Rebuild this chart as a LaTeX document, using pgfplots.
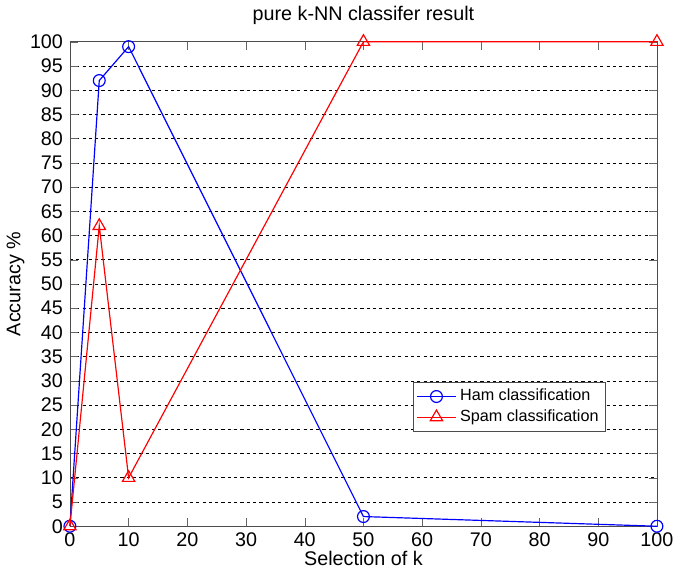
\documentclass[border=0pt]{standalone}
\usepackage{pgfplots}
\pgfplotsset{compat=1.18}
\usepackage{fontspec}
\setmainfont{Liberation Sans}

\begin{document}
\begin{tikzpicture}
\begin{axis}[
   width=297.5pt, height=245.5pt,
   scale only axis,
   xmin=0, xmax=100, ymin=0, ymax=100,
   xtick={0,10,...,100},
   ytick={0,5,...,100},
   tick align=inside,
   major tick length=4pt,
   ymajorgrids,
   grid style={black, dash pattern=on 1.6pt off 1.6pt, line width=0.4pt},
   axis line style={black!70},
   tick style={black!60},
   /pgf/number format/assume math mode=true,
   tick label style={font=\fontsize{10}{12}\selectfont},
   label style={font=\fontsize{10}{12}\selectfont},
   title style={font=\fontsize{10}{12}\selectfont, yshift=-1pt},
   title={pure k-NN classifer result},
   xlabel={Selection of k},
   ylabel={Accuracy \%},
   xlabel style={yshift=5pt},
   ylabel style={yshift=-4pt},
   clip=false,
   legend style={at={(0.913,0.195)}, anchor=south east, draw=black!70,
     font=\fontsize{8.2}{10}\selectfont, inner sep=1.5pt, row sep=-1pt,
     legend cell align=left},
   legend image code/.code={%
     \draw[mark repeat=2, mark phase=2, #1]
       plot coordinates {(0cm,0cm) (0.34cm,0cm) (0.68cm,0cm)};},
 ]
 \addplot[blue, line width=0.6pt, mark=o, mark size=3pt, mark options={solid}]
   coordinates {(0,0) (5,92) (10,99) (50,2) (100,0)};
 \addplot[red, line width=0.6pt, mark=triangle, mark size=3.6pt, mark options={solid}]
   coordinates {(0,0) (5,62) (10,10) (50,100) (100,100)};
 \legend{Ham classification, Spam classification}
\end{axis}
\end{tikzpicture}
\end{document}
